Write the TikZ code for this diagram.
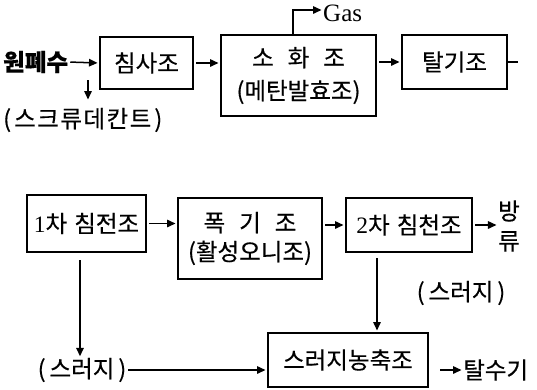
\documentclass[tikz,border=0pt]{standalone}
\usepackage{fontspec}
\setmainfont{Liberation Serif}
\newfontfamily\kr[FakeBold=0.4]{Noto Sans CJK KR}
\usetikzlibrary{arrows.meta}
\begin{document}
\begin{tikzpicture}[x=1pt,y=-1pt,
  box/.style={draw, line width=2pt, inner sep=0pt, align=center,
    font=\kr\fontsize{23.5}{33}\selectfont},
  lbl/.style={inner sep=0pt, align=center, font=\kr\fontsize{23.5}{30}\selectfont},
  arr/.style={line width=1.5pt, shorten <=2pt, shorten >=1.5pt, -{Triangle[length=8.5pt,width=7.5pt]}},
  ln/.style={line width=1.5pt}]
\useasboundingbox (0,0) rectangle (537,389);
% top row
\node[lbl, font=\kr\bfseries\fontsize{23.5}{25}\selectfont, anchor=west] (won) at (3,62) {원폐수};
\node[box, minimum width=93pt, minimum height=52pt] (chim) at (146.5,63) {침사조};
\node[box, minimum width=155pt, minimum height=81pt] (sohwa) at (298.5,75.5) {소\hspace{14pt}화\hspace{14pt}조\\(메탄발효조)};
\node[box, minimum width=105pt, minimum height=54pt] (tal) at (454.5,62) {탈기조};
\node[lbl, anchor=west] (screw) at (3,120) {(\hspace{3pt}스\hspace{1.5pt}크\hspace{1.5pt}류\hspace{1.5pt}데\hspace{1.5pt}칸\hspace{1.5pt}트\hspace{3pt})};
\node[inner sep=0pt, anchor=west, font=\fontsize{25}{28}\selectfont] (gas) at (323,13) {Gas};
\coordinate (g1) at (293,10);
\coordinate (d1) at (88,80);
\coordinate (d2) at (88,101);
\coordinate (t1) at (518,62);
\draw[arr] (won.east) -- (chim.west);
\draw[arr, shorten <=0pt] (d1) -- (d2);
\draw[arr] (chim.east) -- (sohwa.west |- chim.east);
\draw[arr, shorten <=0pt] (sohwa.north -| g1) -- (g1) -- (gas.west |- g1);
\draw[arr] (sohwa.east |- tal.west) -- (tal.west);
\draw[ln] (tal.east) -- (t1);
% bottom row
\node[box, minimum width=119pt, minimum height=57pt] (cha1) at (86.5,223.5) {{\rmfamily 1}차\hspace{7pt}침전조};
\node[box, minimum width=144pt, minimum height=81pt, font=\kr\fontsize{23.5}{29}\selectfont] (pok) at (250,238.5) {폭\hspace{14pt}기\hspace{14pt}조\\(활성오니조)};
\node[box, minimum width=126pt, minimum height=54pt] (cha2) at (409,225) {{\rmfamily 2}차\hspace{7pt}침천조};
\node[lbl] (bang) at (509,226) {방\\류};
\node[box, minimum width=160pt, minimum height=54pt] (nong) at (348,360) {스러지농축조};
\node[lbl] (sl1) at (82,370) {(\,스러지\,)};
\node[lbl] (sl2) at (461,293) {(\,스러지\,)};
\node[lbl, anchor=west] (tals) at (463,370) {탈수기};
\coordinate (e1) at (80,260);
\coordinate (e2) at (377,258);
\coordinate (f1) at (440,370);
\draw[arr] (cha1.east) -- (pok.west |- cha1.east);
\draw[arr] (pok.east |- cha2.west) -- (cha2.west);
\draw[arr] (cha2.east) -- (bang.west |- cha2.east);
\draw[arr, shorten <=0pt] (e1) -- (e1 |- sl1.north);
\draw[arr] (sl1.east) -- (nong.west |- sl1.east);
\draw[arr, shorten <=0pt] (e2) -- (e2 |- nong.north);
\draw[arr, shorten <=0pt] (f1) -- (tals.west);
\end{tikzpicture}
\end{document}
